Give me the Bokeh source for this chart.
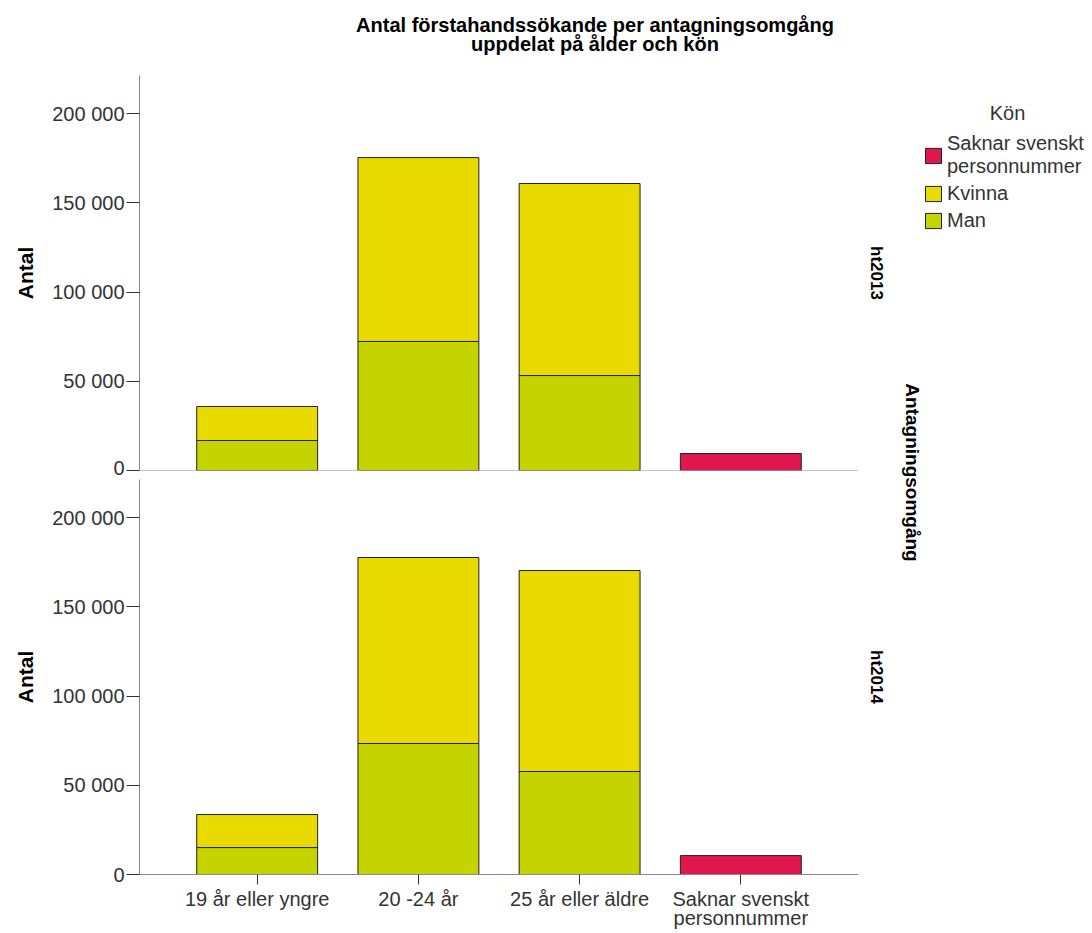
import math
from bokeh.plotting import figure
from bokeh.models import (FactorRange, Range1d, FixedTicker, CustomJSTickFormatter, Span,
                          Label, Legend, LegendItem, ColumnDataSource, LinearAxis)
from bokeh.layouts import row, column
from bokeh.embed import file_html
from bokeh.resources import INLINE

# ---------------- data ----------------
categories = ["19 år eller yngre", "20 -24 år", "25 år eller äldre", "Saknar svenskt\npersonnummer"]
age_groups = categories[:3]
no_id_group = categories[3:]

rounds = ["ht2013", "ht2014"]
man_2013 = [16800, 72300, 53200]
kvinna_2013 = [19050, 103000, 107600]
saknar_2013 = [9500]
man_2014 = [15100, 73400, 57700]
kvinna_2014 = [18500, 104200, 112600]
saknar_2014 = [10600]

y_ticks = [0, 50000, 100000, 150000, 200000]
legend_labels = ["Saknar svenskt\npersonnummer", "Kvinna", "Man"]

title_text = "Antal förstahandssökande per antagningsomgång\nuppdelat på ålder och kön"

# ---------------- style ----------------
FONT = "Liberation Sans"
C_MAN = "#c5d400"
C_KVINNA = "#e9db00"
C_SAKNAR = "#e0174c"
C_EDGE = "#222222"
C_AXIS = "#8a8a8a"
C_TEXT = "#333333"

Y_MAX = 221300
fmt = CustomJSTickFormatter(code=r"return String(tick).replace(/\B(?=(\d{3})+(?!\d))/g, ' ');")
x_range = FactorRange(*categories, range_padding=0.23, range_padding_units="absolute")


def blank(p):
    p.axis.visible = False
    p.xgrid.visible = False
    p.ygrid.visible = False
    p.outline_line_color = None


def make_panel(man, kvinna, saknar, facet, top_border, bottom_border, show_x):
    p = figure(x_range=x_range, y_range=Range1d(0, Y_MAX),
               frame_width=719, frame_height=395,
               min_border_left=139, min_border_right=37,
               min_border_top=top_border, min_border_bottom=bottom_border,
               output_backend="svg", toolbar_location=None)
    p.outline_line_color = None
    p.xgrid.visible = False
    p.ygrid.visible = False

    src = ColumnDataSource(dict(cat=age_groups, man=man, kvinna=kvinna))
    p.vbar_stack(["man", "kvinna"], x="cat", width=0.75, source=src,
                 fill_color=[C_MAN, C_KVINNA], line_color=C_EDGE, line_width=1)
    p.vbar(x=no_id_group, top=saknar, width=0.75, fill_color=C_SAKNAR,
           line_color=C_EDGE, line_width=1)

    ya = p.yaxis[0]
    ya.ticker = FixedTicker(ticks=y_ticks)
    ya.formatter = fmt
    ya.axis_line_color = C_AXIS
    ya.major_tick_line_color = C_TEXT
    ya.major_tick_out = 13
    ya.major_tick_in = 0
    ya.minor_tick_line_color = None
    ya.major_label_standoff = 2
    ya.major_label_text_font = FONT
    ya.major_label_text_font_size = "20px"
    ya.major_label_text_color = C_TEXT
    ya.axis_label = "Antal"
    ya.axis_label_text_font = FONT
    ya.axis_label_text_font_size = "21px"
    ya.axis_label_text_font_style = "bold"
    ya.axis_label_text_color = "#000000"
    ya.axis_label_standoff = 12

    xa = p.xaxis[0]
    if show_x:
        xa.axis_line_color = C_AXIS
        xa.major_tick_line_color = C_TEXT
        xa.major_tick_out = 10
        xa.major_tick_in = 0
        xa.minor_tick_line_color = None
        xa.major_label_standoff = 3
        xa.major_label_text_font = FONT
        xa.major_label_text_font_size = "20px"
        xa.major_label_text_color = C_TEXT
        xa.major_label_text_line_height = 0.9
    else:
        xa.visible = False
        p.add_layout(Span(location=0, dimension="width", line_color=C_AXIS, line_width=1))

    ra = LinearAxis(ticker=FixedTicker(ticks=[]), axis_label=facet,
                    axis_line_color=None, major_tick_line_color=None, minor_tick_line_color=None,
                    major_tick_out=0, major_tick_in=0, major_label_standoff=0,
                    axis_label_standoff=8, axis_label_text_font=FONT,
                    axis_label_text_font_size="17px", axis_label_text_font_style="bold",
                    axis_label_text_color="#000000")
    p.add_layout(ra, "right")
    return p


# title strip
p0 = figure(width=895, height=62, x_range=Range1d(0, 895), y_range=Range1d(0, 62),
            min_border=0, output_backend="svg", toolbar_location=None)
blank(p0)
p0.add_layout(Label(x=567, y=49, text=title_text, text_align="center",
                    text_baseline="top", text_font=FONT, text_font_size="20px",
                    text_font_style="bold", text_color="#000000", text_line_height=0.9))

p1 = make_panel(man_2013, kvinna_2013, saknar_2013, rounds[0], 13, 8, False)
p2 = make_panel(man_2014, kvinna_2014, saknar_2014, rounds[1], 1, 55, True)

# right-hand strip: facet variable name and legend
H3 = 929
p3 = figure(width=197, height=H3, x_range=Range1d(0, 197), y_range=Range1d(0, H3),
            min_border=0, output_backend="svg", toolbar_location=None)
blank(p3)

p3.add_layout(Label(x=17, y=457, text="Antagningsomgång", angle=-math.pi / 2,
                    text_align="center", text_baseline="middle",
                    text_font=FONT, text_font_size="19px", text_font_style="bold",
                    text_color="#000000"))
p3.add_layout(Label(x=112, y=817, text="Kön", text_align="center", text_baseline="middle",
                    text_font=FONT, text_font_size="20px", text_color=C_TEXT))

nan = float("nan")
proxies = []
for c in [C_SAKNAR, C_KVINNA, C_MAN]:
    proxies.append(p3.vbar(x=[nan], top=[nan], width=1, fill_color=c, line_color=C_EDGE))
legend = Legend(items=[LegendItem(label=l, renderers=[r]) for l, r in zip(legend_labels, proxies)],
                location=(28, 697), border_line_color=None, background_fill_alpha=0,
                padding=0, margin=0, spacing=4, glyph_width=20, glyph_height=19,
                label_standoff=4, label_text_font=FONT, label_text_font_size="20px",
                label_text_line_height=0.75, label_text_color=C_TEXT)
p3.add_layout(legend)

layout = row(column(p0, p1, p2), p3)
open("out.html", "w").write(file_html(layout, INLINE))
